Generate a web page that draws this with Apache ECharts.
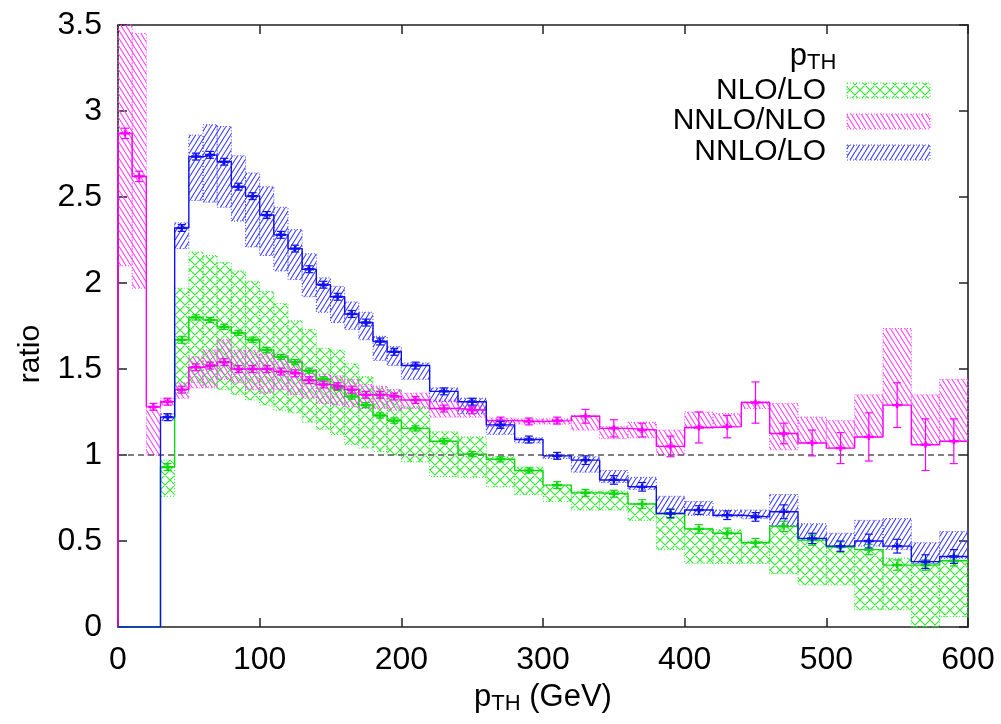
<!DOCTYPE html>
<html><head><meta charset="utf-8">
<script src="https://cdn.jsdelivr.net/npm/echarts/dist/echarts.min.js"></script>
<style>html,body{margin:0;padding:0;background:#fff}#c{width:1001px;height:724px}</style>
</head><body><div id="c"></div>
<script>
// ---- data ----
const binLo = [0,10,20,30,40,50,60,70,80,90,100,110,120,130,140,150,160,170,180,190,200,220,240,260,280,300,320,340,360,380,400,420,440,460,480,500,520,540,560,580];
const binHi = [10,20,30,40,50,60,70,80,90,100,110,120,130,140,150,160,170,180,190,200,220,240,260,280,300,320,340,360,380,400,420,440,460,480,500,520,540,560,580,600];

// NLO/LO (green)
const nloLoVal    = [0,0,0,0.93,1.67,1.80,1.785,1.745,1.71,1.67,1.61,1.57,1.54,1.49,1.44,1.39,1.34,1.29,1.23,1.20,1.155,1.08,1.005,0.975,0.91,0.825,0.78,0.775,0.715,0.66,0.57,0.545,0.49,0.585,0.505,0.465,0.45,0.36,0.36,0.385];
const nloLoBandLo = [null,null,null,0.76,1.36,1.42,1.40,1.38,1.35,1.32,1.29,1.26,1.245,1.19,1.15,1.12,1.06,1.04,1.02,1.00,0.96,0.875,0.87,0.815,0.77,0.73,0.68,0.68,0.62,0.45,0.37,0.37,0.37,0.31,0.245,0.245,0.10,0.10,0.0,0.06];
const nloLoBandHi = [null,null,null,0.97,1.97,2.18,2.16,2.12,2.07,2.01,1.95,1.88,1.78,1.73,1.62,1.61,1.53,1.455,1.39,1.38,1.28,1.135,1.105,0.99,0.93,0.825,0.79,0.79,0.72,0.66,0.575,0.565,0.50,0.59,0.505,0.47,0.45,0.40,0.37,0.39];
const nloLoErr    = [null,null,null,0.02,0.02,0.015,0.015,0.015,0.015,0.015,0.015,0.015,0.015,0.015,0.015,0.015,0.015,0.015,0.015,0.015,0.015,0.015,0.015,0.015,0.015,0.02,0.02,0.02,0.025,0.025,0.025,0.03,0.025,0.03,0.03,0.03,0.03,0.03,0.03,0.03];

// NNLO/NLO (magenta)
const nnloNloVal    = [2.87,2.62,1.28,1.31,1.38,1.51,1.52,1.54,1.50,1.50,1.50,1.485,1.475,1.435,1.41,1.40,1.38,1.35,1.35,1.34,1.32,1.27,1.26,1.20,1.195,1.20,1.225,1.155,1.145,1.05,1.16,1.165,1.305,1.125,1.07,1.04,1.105,1.29,1.06,1.08];
const nnloNloBandLo = [2.10,1.97,1.00,1.29,1.33,1.39,1.39,1.44,1.42,1.38,1.36,1.38,1.35,1.33,1.30,1.29,1.28,1.27,1.27,1.26,1.27,1.22,1.22,1.165,1.18,1.18,1.145,1.095,1.10,1.00,1.155,1.165,1.27,1.03,1.07,1.04,1.105,1.29,1.06,1.08];
const nnloNloBandHi = [3.6,3.45,1.28,1.33,1.42,1.57,1.61,1.67,1.61,1.61,1.59,1.58,1.55,1.50,1.47,1.46,1.44,1.41,1.40,1.38,1.36,1.32,1.31,1.215,1.21,1.21,1.23,1.165,1.19,1.145,1.25,1.24,1.31,1.30,1.22,1.20,1.35,1.735,1.35,1.44];
const nnloNloErr    = [0.03,0.03,0.02,0.02,0.02,0.02,0.02,0.02,0.02,0.02,0.02,0.02,0.02,0.02,0.02,0.02,0.02,0.02,0.02,0.02,0.02,0.02,0.02,0.02,0.02,0.02,0.04,0.05,0.04,0.06,0.09,0.065,0.12,0.06,0.075,0.09,0.14,0.13,0.15,0.13];

// NNLO/LO (blue)
const nnloLoVal    = [0,0,0,1.22,2.32,2.735,2.745,2.705,2.56,2.505,2.395,2.28,2.20,2.08,1.99,1.92,1.82,1.77,1.66,1.60,1.52,1.37,1.31,1.175,1.09,0.995,0.97,0.855,0.815,0.66,0.68,0.65,0.64,0.67,0.515,0.47,0.50,0.47,0.38,0.41];
const nnloLoBandLo = [null,null,null,1.20,2.20,2.48,2.47,2.44,2.36,2.21,2.16,2.07,2.02,1.92,1.83,1.77,1.73,1.67,1.55,1.52,1.44,1.31,1.24,1.12,1.07,0.98,0.90,0.84,0.80,0.66,0.65,0.64,0.63,0.59,0.505,0.47,0.47,0.45,0.37,0.40];
const nnloLoBandHi = [null,null,null,1.24,2.35,2.86,2.92,2.91,2.74,2.64,2.56,2.44,2.31,2.17,2.03,1.98,1.89,1.83,1.69,1.63,1.535,1.39,1.33,1.20,1.10,1.00,0.99,0.91,0.87,0.76,0.73,0.68,0.68,0.77,0.60,0.545,0.62,0.63,0.49,0.555];
const nnloLoErr    = [null,null,null,0.02,0.02,0.02,0.02,0.02,0.02,0.02,0.02,0.02,0.02,0.02,0.02,0.02,0.02,0.02,0.02,0.02,0.02,0.02,0.02,0.02,0.02,0.02,0.025,0.025,0.025,0.025,0.025,0.025,0.025,0.04,0.03,0.03,0.04,0.04,0.04,0.04];

const xTickLabels = ['0','100','200','300','400','500','600'];
const yTickLabels = ['0','0.5','1','1.5','2','2.5','3','3.5'];
const seriesNames = ['NLO/LO','NNLO/NLO','NNLO/LO'];
const refLine = [[0,1],[600,1]];

// ---- helpers ----
const FONT = "'Liberation Sans', Arial, Helvetica, sans-serif";
const GREEN = '#10d810', PINK = '#ff00ff', BLUE = '#1010f0';
const GREEN_H = '#33e633', PINK_H = '#ff44ff', BLUE_H = '#4040ff';

function makePattern(kind, color) {
  const c = document.createElement('canvas');
  const w = kind === 'cross' ? 10 : 5, h = kind === 'cross' ? 10 : 8;
  c.width = w; c.height = h;
  const g = c.getContext('2d');
  g.strokeStyle = color; g.lineWidth = 1.15;
  g.beginPath();
  for (const o of [-w, 0, w]) {
    if (kind === 'cross') { g.moveTo(o, 0); g.lineTo(o + w, h); g.moveTo(o + w, 0); g.lineTo(o, h); }
    else if (kind === 'back') { g.moveTo(o, 0); g.lineTo(o + w, h); }
    else { g.moveTo(o, h); g.lineTo(o + w, 0); }
  }
  g.stroke();
  return { image: c, repeat: 'repeat' };
}
const patGreen = makePattern('cross', GREEN_H);
const patPink = makePattern('back', PINK_H);
const patBlue = makePattern('fwd', BLUE_H);

function bandData(lo, hi) {
  const out = [];
  binLo.forEach((x, i) => { if (lo[i] != null) out.push([x, binHi[i], lo[i], hi[i]]); });
  return out;
}
function stepData(val) {
  const out = [[0, 0]];
  binLo.forEach((x, i) => out.push([x, val[i]]));
  out.push([600, val[val.length - 1]]);
  return out;
}
function errData(val, err) {
  const out = [];
  binLo.forEach((x, i) => { if (err[i] != null) out.push([(x + binHi[i]) / 2, val[i], err[i]]); });
  return out;
}
function bandRender(pattern, color) {
  return function (params, api) {
    const p0 = api.coord([api.value(0), api.value(3)]);
    const p1 = api.coord([api.value(1), api.value(2)]);
    const cs = params.coordSys;
    const shape = echarts.graphic.clipRectByRect(
      { x: p0[0], y: p0[1], width: p1[0] - p0[0], height: p1[1] - p0[1] },
      { x: cs.x, y: cs.y, width: cs.width, height: cs.height });
    return shape && { type: 'rect', shape: shape, style: { fill: pattern, stroke: color, lineWidth: 1, lineDash: [1, 2] } };
  };
}
function errRender(color) {
  return function (params, api) {
    const xc = api.value(0), v = api.value(1), e = api.value(2);
    const pc = api.coord([xc, v]), pt = api.coord([xc, v + e]), pb = api.coord([xc, v - e]);
    const st = { stroke: color, lineWidth: 1.2 };
    const thick = { stroke: color, lineWidth: 2.4 };
    return { type: 'group', children: [
      { type: 'line', shape: { x1: pc[0], y1: pt[1], x2: pc[0], y2: pb[1] }, style: st },
      { type: 'line', shape: { x1: pc[0] - 4, y1: pt[1], x2: pc[0] + 4, y2: pt[1] }, style: st },
      { type: 'line', shape: { x1: pc[0] - 4, y1: pb[1], x2: pc[0] + 4, y2: pb[1] }, style: st },
      { type: 'line', shape: { x1: pc[0] - 5, y1: pc[1], x2: pc[0] + 5, y2: pc[1] }, style: thick },
      { type: 'line', shape: { x1: pc[0], y1: pc[1] - 3, x2: pc[0], y2: pc[1] + 3 }, style: thick }
    ]};
  };
}

const axisLineStyle = { color: '#222', width: 1.6 };
const tickStyle = { inside: true, length: 9, lineStyle: { color: '#222', width: 1.5 } };
const labelStyle = { fontSize: 32, color: '#000', fontFamily: FONT };

const chart = echarts.init(document.getElementById('c'), null, { renderer: 'canvas' });
chart.setOption({
  animation: false,
  backgroundColor: '#fff',
  grid: { left: 118, right: 33, top: 25, bottom: 97 },
  xAxis: [
    { type: 'value', min: 0, max: 600, interval: 100,
      axisLine: { show: true, onZero: false, lineStyle: axisLineStyle }, axisTick: tickStyle,
      axisLabel: Object.assign({ margin: 17, formatter: (v) => xTickLabels[Math.round(v / 100)] }, labelStyle),
      splitLine: { show: false },
      name: '{a|p}{b|TH}{a| (GeV)}', nameLocation: 'middle', nameGap: 52,
      nameTextStyle: { rich: { a: { fontSize: 31, fontFamily: FONT, color: '#000', lineHeight: 36, verticalAlign: 'middle' },
                               b: { fontSize: 22, fontFamily: FONT, color: '#000', lineHeight: 22, verticalAlign: 'bottom' } } } },
    { type: 'value', position: 'top', min: 0, max: 600, interval: 100,
      axisLine: { show: true, onZero: false, lineStyle: axisLineStyle }, axisTick: tickStyle,
      axisLabel: { show: false }, splitLine: { show: false } }
  ],
  yAxis: [
    { type: 'value', min: 0, max: 3.5, interval: 0.5,
      axisLine: { show: true, onZero: false, lineStyle: axisLineStyle }, axisTick: tickStyle,
      axisLabel: Object.assign({ margin: 16, formatter: (v) => yTickLabels[Math.round(v * 2)] }, labelStyle),
      splitLine: { show: false },
      name: 'ratio', nameLocation: 'middle', nameGap: 72,
      nameTextStyle: { fontSize: 30, fontFamily: FONT, color: '#000', padding: [0, 56, 0, 0] } },
    { type: 'value', position: 'right', min: 0, max: 3.5, interval: 0.5,
      axisLine: { show: true, onZero: false, lineStyle: axisLineStyle }, axisTick: tickStyle,
      axisLabel: { show: false }, splitLine: { show: false } }
  ],
  series: [
    { name: seriesNames[0] + ' band', type: 'custom', renderItem: bandRender(patGreen, GREEN_H), data: bandData(nloLoBandLo, nloLoBandHi), encode: { x: [0, 1], y: [2, 3] }, z: 1, silent: true },
    { name: seriesNames[1] + ' band', type: 'custom', renderItem: bandRender(patPink, PINK_H), data: bandData(nnloNloBandLo, nnloNloBandHi), encode: { x: [0, 1], y: [2, 3] }, z: 1, silent: true },
    { name: seriesNames[2] + ' band', type: 'custom', renderItem: bandRender(patBlue, BLUE_H), data: bandData(nnloLoBandLo, nnloLoBandHi), encode: { x: [0, 1], y: [2, 3] }, z: 1, silent: true },
    { name: 'unity', type: 'line', data: refLine, symbol: 'none', lineStyle: { color: '#555', width: 1.5, type: [6, 4] }, z: 2, silent: true },
    { name: seriesNames[0], type: 'line', step: 'end', data: stepData(nloLoVal), symbol: 'none', lineStyle: { color: GREEN, width: 1.4 }, z: 3, clip: true },
    { name: seriesNames[1], type: 'line', step: 'end', data: stepData(nnloNloVal), symbol: 'none', lineStyle: { color: PINK, width: 1.4 }, z: 3, clip: true },
    { name: seriesNames[2], type: 'line', step: 'end', data: stepData(nnloLoVal), symbol: 'none', lineStyle: { color: BLUE, width: 1.4 }, z: 3, clip: true },
    { name: seriesNames[0] + ' err', type: 'custom', renderItem: errRender(GREEN), data: errData(nloLoVal, nloLoErr), encode: { x: 0, y: 1 }, z: 4, silent: true },
    { name: seriesNames[1] + ' err', type: 'custom', renderItem: errRender(PINK), data: errData(nnloNloVal, nnloNloErr), encode: { x: 0, y: 1 }, z: 4, silent: true },
    { name: seriesNames[2] + ' err', type: 'custom', renderItem: errRender(BLUE), data: errData(nnloLoVal, nnloLoErr), encode: { x: 0, y: 1 }, z: 4, silent: true }
  ],
  graphic: [
    { type: 'text', x: 813, y: 56, z: 10, style: { text: '{p|p}{s|TH}', align: 'center', verticalAlign: 'middle',
      rich: { p: { fontSize: 31, fontFamily: FONT, fill: '#000', lineHeight: 36, verticalAlign: 'middle' },
              s: { fontSize: 22, fontFamily: FONT, fill: '#000', lineHeight: 22, verticalAlign: 'bottom' } } } },
    { type: 'text', x: 826, y: 91, z: 10, style: { text: seriesNames[0], fontSize: 30, fontFamily: FONT, fill: '#000', align: 'right', verticalAlign: 'middle' } },
    { type: 'text', x: 826, y: 121, z: 10, style: { text: seriesNames[1], fontSize: 30, fontFamily: FONT, fill: '#000', align: 'right', verticalAlign: 'middle' } },
    { type: 'text', x: 826, y: 152, z: 10, style: { text: seriesNames[2], fontSize: 30, fontFamily: FONT, fill: '#000', align: 'right', verticalAlign: 'middle' } },
    { type: 'rect', z: 10, shape: { x: 847, y: 83, width: 83, height: 15 }, style: { fill: patGreen, stroke: GREEN_H, lineWidth: 1, lineDash: [1, 2] } },
    { type: 'rect', z: 10, shape: { x: 847, y: 114, width: 83, height: 15 }, style: { fill: patPink, stroke: PINK_H, lineWidth: 1, lineDash: [1, 2] } },
    { type: 'rect', z: 10, shape: { x: 847, y: 145, width: 83, height: 15 }, style: { fill: patBlue, stroke: BLUE_H, lineWidth: 1, lineDash: [1, 2] } }
  ]
});
</script>
</body></html>
